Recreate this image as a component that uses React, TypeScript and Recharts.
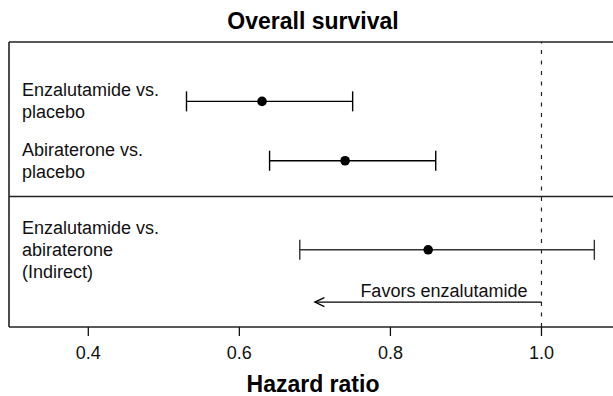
import React from 'react';
import {
  ComposedChart,
  Scatter,
  XAxis,
  YAxis,
  ErrorBar,
  ReferenceLine,
  Label,
} from 'recharts';

// ---- data ----
const comparisons = [
  'Enzalutamide vs.\nplacebo',
  'Abiraterone vs.\nplacebo',
  'Enzalutamide vs.\nabiraterone\n(Indirect)',
];
const hazardRatios = [0.63, 0.74, 0.85];
const lowerCI = [0.53, 0.64, 0.68];
const upperCI = [0.75, 0.86, 1.07];
const rowPositions = [1, 2, 3.5];
const indirectFlags = [false, false, true];
const xTicks = [0.4, 0.6, 0.8, 1.0];
const xDomain = [0.295, 1.1];
const yDomain = [0, 4.8];
const separatorPos = 2.6;
const referenceHR = 1.0;
const arrowPos = 4.38;
const arrowFrom = 1.0;
const arrowTo = 0.7;
const titleText = 'Overall survival';
const xLabelText = 'Hazard ratio';
const arrowText = 'Favors enzalutamide';

const rows = comparisons.map((label, i) => ({
  label,
  hr: hazardRatios[i],
  y: rowPositions[i],
  err: [hazardRatios[i] - lowerCI[i], upperCI[i] - hazardRatios[i]],
  indirect: indirectFlags[i],
}));
const directRows = rows.filter((r) => !r.indirect);
const indirectRows = rows.filter((r) => r.indirect);
const labelRows = rows.map((r) => ({ hr: xDomain[0], y: r.y, label: r.label }));

const FONT = '"Liberation Sans", Arial, Helvetica, sans-serif';

const Dot = (props: any) => {
  const { cx, cy } = props;
  if (cx == null || cy == null) return null;
  return <circle cx={cx} cy={cy} r={4.8} fill="#000" />;
};

const RowLabel = (props: any) => {
  const { cx, cy, payload } = props;
  if (cx == null || cy == null || !payload) return null;
  const lines = String(payload.label).split('\n');
  const lh = 22;
  const start = cy - ((lines.length - 1) * lh) / 2;
  return (
    <g>
      {lines.map((ln: string, k: number) => (
        <text
          key={k}
          x={cx + 13}
          y={start + k * lh}
          dominantBaseline="central"
          fontSize={18}
          fill="#111"
          fontFamily={FONT}
        >
          {ln}
        </text>
      ))}
    </g>
  );
};

const ArrowShape = (p: any) => {
  const { x1, y1, x2 } = p;
  const tipX = Math.min(x1, x2);
  const endX = Math.max(x1, x2);
  return (
    <g>
      <line x1={tipX} y1={y1} x2={endX} y2={y1} stroke="#000" strokeWidth={1.3} />
      <polyline
        points={`${tipX + 9.5},${y1 - 4.5} ${tipX},${y1} ${tipX + 9.5},${y1 + 4.5}`}
        fill="none"
        stroke="#000"
        strokeWidth={1.3}
      />
      <text
        x={endX - 14}
        y={y1 - 5}
        textAnchor="end"
        fontSize={18}
        fill="#111"
        fontFamily={FONT}
      >
        {arrowText}
      </text>
    </g>
  );
};

export default function App() {
  return (
    <div
      style={{
        position: 'absolute',
        left: 0,
        top: 0,
        width: 613,
        height: 396,
        overflow: 'hidden',
        background: '#fff',
        fontFamily: FONT,
      }}
    >
      <ComposedChart
        width={640}
        height={396}
        margin={{ top: 42, right: 23, bottom: 0, left: 9 }}
        style={{ fontFamily: FONT }}
      >
        <XAxis
          type="number"
          dataKey="hr"
          domain={xDomain}
          allowDataOverflow
          ticks={xTicks}
          tickFormatter={(v: number) => v.toFixed(1)}
          height={69}
          axisLine={{ stroke: '#222', strokeWidth: 1.6 }}
          tickSize={9}
          tickMargin={10}
          tickLine={{ stroke: '#111', strokeWidth: 1.3 }}
          tick={{ fontSize: 18, fill: '#111', fontFamily: FONT }}
        >
          <Label
            value={xLabelText}
            position="insideBottom"
            offset={4}
            fontSize={23}
            fontWeight="bold"
            fill="#000"
            fontFamily={FONT}
          />
        </XAxis>
        <YAxis
          type="number"
          dataKey="y"
          domain={yDomain}
          allowDataOverflow
          reversed
          width={0}
          hide
        />
        <ReferenceLine
          y={yDomain[0]}
          stroke="#222"
          strokeWidth={1.6}
          ifOverflow="visible"
          label={{
            value: titleText,
            position: 'top',
            offset: 13,
            fontSize: 23,
            fontWeight: 'bold',
            fill: '#000',
            fontFamily: FONT,
          }}
        />
        <ReferenceLine
          x={xDomain[0]}
          stroke="#222"
          strokeWidth={1.6}
          ifOverflow="visible"
        />
        <ReferenceLine y={separatorPos} stroke="#222" strokeWidth={1.5} />
        <ReferenceLine
          x={referenceHR}
          stroke="#222"
          strokeWidth={1.2}
          strokeDasharray="4 6.5"
        />
        <ReferenceLine
          segment={[
            { x: arrowTo, y: arrowPos },
            { x: arrowFrom, y: arrowPos },
          ]}
          shape={<ArrowShape />}
          ifOverflow="visible"
        />
        <Scatter
          data={labelRows}
          dataKey="hr"
          shape={<RowLabel />}
          isAnimationActive={false}
        />
        <Scatter
          data={directRows}
          dataKey="hr"
          shape={<Dot />}
          isAnimationActive={false}
        >
          <ErrorBar
            dataKey="err"
            direction="x"
            width={10}
            stroke="#000"
            strokeWidth={1.4}
            isAnimationActive={false}
          />
        </Scatter>
        <Scatter
          data={indirectRows}
          dataKey="hr"
          shape={<Dot />}
          isAnimationActive={false}
        >
          <ErrorBar
            dataKey="err"
            direction="x"
            width={10}
            stroke="#333"
            strokeWidth={1.4}
            isAnimationActive={false}
          />
        </Scatter>
      </ComposedChart>
    </div>
  );
}
